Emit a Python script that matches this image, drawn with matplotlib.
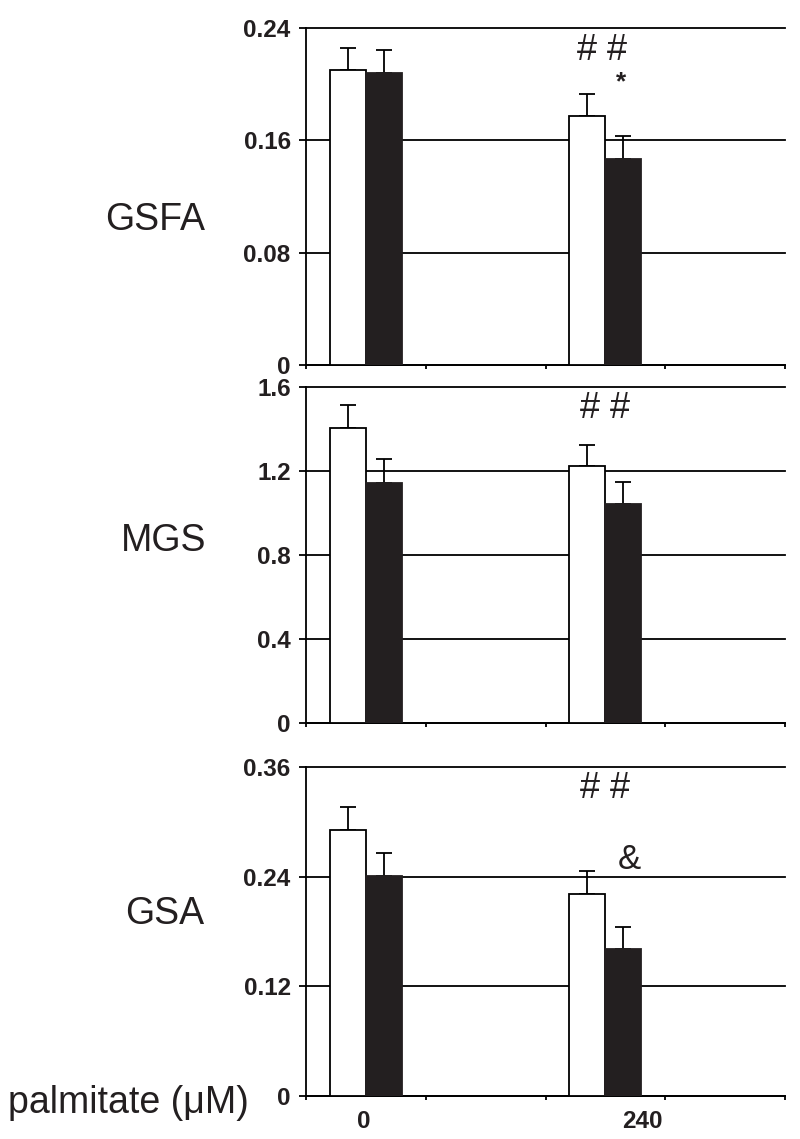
import matplotlib

matplotlib.use("Agg")
import matplotlib.pyplot as plt
import numpy as np

plt.rcParams["font.family"] = ["Liberation Sans", "DejaVu Sans"]

groups = ["0", "240"]
panel_names = ["GSFA", "MGS", "GSA"]

gsfa_white = [0.210, 0.177]
gsfa_white_err = [0.016, 0.016]
gsfa_black = [0.208, 0.147]
gsfa_black_err = [0.016, 0.016]

mgs_white = [1.405, 1.224]
mgs_white_err = [0.110, 0.100]
mgs_black = [1.143, 1.043]
mgs_black_err = [0.114, 0.105]

gsa_white = [0.291, 0.221]
gsa_white_err = [0.025, 0.025]
gsa_black = [0.241, 0.161]
gsa_black_err = [0.025, 0.024]

gsfa_ticks = [0, 0.08, 0.16, 0.24]
mgs_ticks = [0, 0.4, 0.8, 1.2, 1.6]
gsa_ticks = [0, 0.12, 0.24, 0.36]

W, H = 800, 1139
fig = plt.figure(figsize=(W / 100, H / 100), dpi=100)

# axes boxes in pixels: (top, bottom)
boxes = [(28, 365), (387, 723), (767, 1096)]
left_px, right_px = 306, 785

panels = [
    (gsfa_white, gsfa_white_err, gsfa_black, gsfa_black_err, gsfa_ticks, ["0", "0.08", "0.16", "0.24"]),
    (mgs_white, mgs_white_err, mgs_black, mgs_black_err, mgs_ticks, ["0", "0.4", "0.8", "1.2", "1.6"]),
    (gsa_white, gsa_white_err, gsa_black, gsa_black_err, gsa_ticks, ["0", "0.12", "0.24", "0.36"]),
]
annotations = [
    [("# #", 2.47, 0.2243, 26, "normal"), ("*", 2.63, 0.201, 19, "bold")],
    [("# #", 2.50, 1.50, 26, "normal")],
    [("# #", 2.50, 0.337, 26, "normal"), ("&", 2.70, 0.259, 25, "normal")],
]
ylabel_pos = [(155, 220), (164, 541), (165, 914)]

centers = np.array([0.5, 2.5])
bw = 0.3
lw = 1.3
axes = []
for i, ((top, bot), (wv, we, bv, be, ticks, tlabels)) in enumerate(zip(boxes, panels)):
    ax = fig.add_axes([left_px / W, 1 - bot / H, (right_px - left_px) / W, (bot - top) / H])
    axes.append(ax)
    ax.bar(centers - bw / 2, wv, bw, color="white", edgecolor="black", linewidth=lw, zorder=3)
    ax.bar(centers + bw / 2, bv, bw, color="#231f20", edgecolor="#231f20", linewidth=lw, zorder=3)
    ax.errorbar(centers - bw / 2, wv, yerr=[np.zeros(2), we], fmt="none", ecolor="black",
                elinewidth=lw, capsize=5.5, capthick=lw, zorder=2)
    ax.errorbar(centers + bw / 2, bv, yerr=[np.zeros(2), be], fmt="none", ecolor="black",
                elinewidth=lw, capsize=5.5, capthick=lw, zorder=2)
    ax.set_xlim(0, 4)
    ax.set_ylim(0, ticks[-1])
    ax.set_yticks(ticks)
    ax.set_yticklabels(tlabels, fontsize=17.5, fontweight="bold", color="#231f20")
    ax.set_xticks([0, 1, 2, 3, 4])
    ax.set_xticklabels([])
    ax.tick_params(axis="y", direction="out", length=5, width=lw, pad=6)
    ax.tick_params(axis="x", direction="out", length=3, width=lw)
    ax.yaxis.grid(True, color="black", linewidth=lw)
    ax.set_axisbelow(True)
    for gl in ax.get_ygridlines():
        gl.set_clip_on(False)
    for s in ["top", "right"]:
        ax.spines[s].set_visible(False)
    for s in ["left", "bottom"]:
        ax.spines[s].set_linewidth(lw)
    for txt, x, y, fs, fw in annotations[i]:
        ax.text(x, y, txt, fontsize=fs, fontweight=fw, ha="center", va="center", color="#231f20")
    lx, ly = ylabel_pos[i]
    fig.text(lx / W, 1 - ly / H, panel_names[i], fontsize=27, ha="center", va="center", color="#231f20")

# category labels below the last panel
ax = axes[-1]
for g, x in zip(groups, [0.48, 2.81]):
    ax.text(x, -0.043, g, transform=ax.get_xaxis_transform(), fontsize=17.5,
            fontweight="bold", ha="center", va="top", color="#231f20")
fig.text(128 / W, 1 - 1103 / H, "palmitate (μM)", fontsize=27, ha="center", va="center", color="#231f20")

fig.savefig("out.png", dpi=100)
